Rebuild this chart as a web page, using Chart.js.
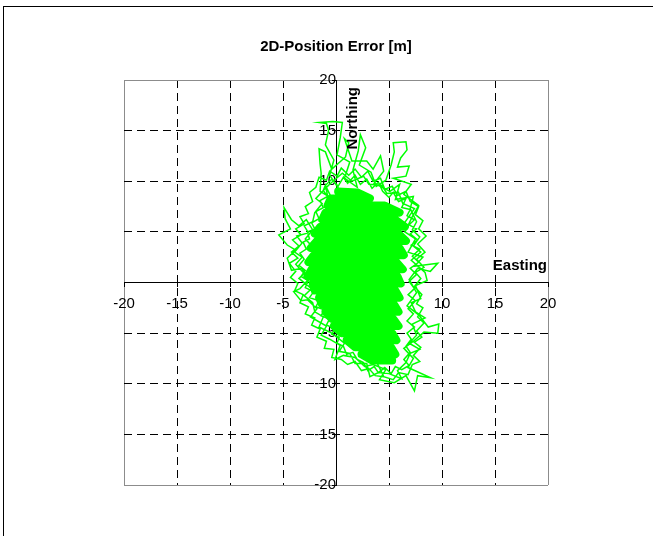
<!DOCTYPE html>
<html>
<head>
<meta charset="utf-8">
<script src="https://cdn.jsdelivr.net/npm/chart.js@4"></script>
<style>
  html, body { margin: 0; padding: 0; background: #fff; overflow: hidden; }
  #wrap { position: relative; width: 653px; height: 536px; }
  #frame { position: absolute; left: 3px; top: 6px; width: 700px; height: 600px;
           border: 1.5px solid #000; pointer-events: none; }
  canvas { position: absolute; left: 0; top: 0; }
</style>
</head>
<body>
<div id="wrap">
  <canvas id="chart" width="653" height="536"></canvas>
  <div id="frame"></div>
</div>
<script>
// axis ticks
var tickValues = [-20, -15, -10, -5, 0, 5, 10, 15, 20];

// dense part of the track (drawn thick), easting / northing in metres
var coreEast  = [0.2, 2.0, 3.2, -0.5, -0.8, 4.6, 6.0, -1.0, -1.3, 5.6, 6.5, -1.5, -2.0, 5.9, 6.6, -1.8, -2.4, 6.0, 6.4, -2.1,
                 -2.6, 5.7, 6.3, -2.3, -2.7, 5.8, 6.1, -2.2, -2.0, 5.6, 6.0, -1.6, -1.3, 5.5, 5.9, -1.0, -0.4, 5.4, 5.9, -0.2,
                 0.5, 5.3, 5.7, 1.0, 1.8, 5.2, 5.6, 2.4, 3.4, 5.3];
var coreNorth = [9.0, 8.9, 8.3, 8.3, 7.6, 7.6, 6.9, 6.9, 6.2, 6.2, 5.5, 5.5, 4.8, 4.8, 4.1, 4.1, 3.4, 3.4, 2.7, 2.7,
                 2.0, 2.0, 1.3, 1.3, 0.6, 0.6, -0.1, -0.1, -0.8, -0.8, -1.5, -1.5, -2.2, -2.2, -2.9, -2.9, -3.6, -3.6, -4.3, -4.3,
                 -5.0, -5.0, -5.7, -5.7, -6.4, -6.4, -7.1, -7.1, -7.7, -7.7];

// full wandering track (thin line)
var trackEast  = [1.0, 0.5, -0.3, 0.7, 0.1, 1.1, 0.3, -0.6, -0.2, -1.0, -0.7, -0.9, -1.6, -0.3, 0.6, 0.4, 0.1, 1.3, 0.8, 2.0,
                  1.6, 2.1, 2.3, 2.8, 2.2, 3.3, 3.8, 4.7, 5.2, 5.5, 5.4, 6.6, 6.7, 6.1, 5.8, 6.9, 6.6, 5.4, 7.1, 6.4,
                  7.8, 7.2, 6.5, 7.5, 6.8, 8.2, 7.4, 9.6, 8.9, 7.7, 6.9, 7.6, 6.7, 7.8, 8.7, 9.7, 9.6, 8.3, 7.3, 6.4,
                  7.3, 6.8, 8.9, 7.7, 7.4, 6.6, 5.5, 4.1, 4.7, 3.5, 2.7, 1.8, 0.7, -0.1, 0.4, -0.6, -1.4, -0.9, -2.4, -1.8,
                  -2.7, -3.3, -4.0, -3.4, -2.6, -3.2, -4.2, -4.6, -3.8, -4.6, -5.4, -4.3, -4.8, -4.9, -4.2, -3.5, -2.8, -2.2, -2.9, -2.1,
                  -1.5, -1.2, -0.4, -1.5, -1.4, -1.5, -1.6, -1.0, -0.4, 0.9, 1.2, 0.8, 1.5, 2.9, 3.5, 4.2, 4.5, 3.6, 5.1, 6.0,
                  5.6, 7.3, 7.0, 7.6, 7.2, 7.9, 7.3, 8.0, 7.1, 8.4, 8.6, 7.5, 8.0, 7.1, 7.5, 8.4, 7.2, 7.6, 6.9, 7.9,
                  7.0, 6.6, 5.8, 6.2, 5.0, 4.0, 3.2, 2.9, 1.8, 1.3, 0.3, 0.8, -0.4, -1.6, -1.2, -2.0, -2.2, -3.0, -2.3, -3.5,
                  -3.0, -3.8, -3.2, -3.9, -3.2, -3.7, -2.6, -3.0, -2.2, -2.0, -1.3, -1.9, -1.0, -0.5, 0.6, 1.5, 2.6, 3.1, 4.3, 4.8,
                  5.9, 6.3, 7.4, 5.2, 3.0,
                  -1.0, -0.4, 0.2, 0.7, 1.1, 1.8, 2.3, 2.9, 3.4, 4.0, 4.4, 5.0, 5.4, 5.9, 6.6, 6.2, 7.0, 6.7, 7.4, 6.9,
                  7.6, 7.0, 7.7, 7.1, 7.9, 7.2, 7.8, 7.0, 7.6, 6.9, 7.4, 6.8, 7.5, 6.8, 7.3, 6.7, 7.4, 6.7, 7.1, 6.6,
                  7.0, 6.4, 6.9, 6.2, 5.6, 5.2, 4.6, 4.0, 3.6, 3.0, 2.6, 2.0, 1.6, 1.0, 0.7, 0.1, 0.3, -0.4, -0.1, -0.9,
                  -0.6, -1.4, -1.1, -1.9, -1.6, -2.5, -2.1, -2.9, -2.6, -3.3, -2.9, -3.5, -3.0, -3.4, -2.8, -3.1, -2.5, -2.7, -2.0, -2.3,
                  -1.6, -1.9, -1.2, -1.5, -0.8, -1.2, -1.0,
                  1.4, 3.0, 4.5, 5.4, 5.9, 6.8, 7.2, 7.9, 7.3, 8.0, 7.4, 8.1, 7.6, 8.3, 7.7, 8.2, 7.6, 8.1, 7.4, 8.0,
                  7.5, 8.3, 7.6, 8.4, 7.7, 8.5, 7.8, 8.2, 7.5, 7.8, 7.0, 6.6, 5.8, 5.3, 4.6, 4.2, 3.5, 3.0, 2.4, 1.8,
                  1.2, 0.5, 0.1, -0.6, -0.9, -1.6, -1.9, -2.5, -2.2, -2.9, -2.6, -3.4, -3.0, -3.8, -3.3, -4.1, -3.5, -4.2, -3.6, -4.4,
                  -3.8, -4.3, -3.6, -3.9, -3.1, -3.4, -2.6, -2.9, -2.0, -2.3, -1.5, -1.8, -0.9, -1.1, -0.2, -0.4, 0.5, 1.1, 1.8, 2.4,
                  3.1, 3.7, 4.5];
var trackNorth = [0.5, 1.8, 3.1, 4.4, 6.0, 7.6, 9.2, 10.6, 12.1, 13.6, 15.0, 15.7, 15.8, 15.9, 15.8, 14.3, 12.6, 11.9, 10.3, 9.4,
                  11.1, 13.0, 14.6, 13.3, 11.6, 10.9, 9.5, 10.1, 11.6, 12.9, 13.8, 13.9, 13.1, 12.3, 11.4, 11.5, 10.5, 10.3, 9.7, 8.7,
                  7.6, 6.5, 5.0, 4.3, 3.0, 2.5, 1.6, 1.9, 1.1, 1.4, 0.3, -1.0, -2.3, -3.2, -4.4, -4.1, -5.0, -4.9, -5.8, -6.5,
                  -7.5, -8.4, -9.4, -9.2, -10.7, -9.2, -9.9, -9.6, -8.6, -8.1, -8.3, -7.4, -7.2, -7.6, -6.2, -5.6, -5.2, -4.3, -3.4, -2.6,
                  -1.7, -1.8, -0.9, -0.6, 0.3, 1.4, 1.2, 2.4, 3.2, 3.7, 4.7, 5.3, 6.3, 7.4, 6.2, 5.6, 6.2, 5.2, 4.3, 3.4,
                  4.7, 6.8, 8.3, 9.0, 10.8, 11.7, 13.2, 12.9, 11.2, 12.4, 13.8, 14.2, 12.0, 12.0, 11.2, 12.5, 11.0, 9.8, 9.0, 9.7,
                  8.2, 8.5, 7.3, 6.0, 5.2, 4.5, 3.6, 3.0, 2.2, 1.0, 0.2, -0.3, -1.6, -2.0, -2.9, -3.5, -4.1, -5.2, -6.0, -6.6,
                  -7.0, -7.9, -8.7, -9.5, -9.0, -8.9, -9.3, -8.0, -8.0, -7.0, -6.8, -6.0, -5.0, -4.4, -3.4, -2.9, -2.0, -1.3, -0.6, 0.4,
                  0.9, 1.8, 2.5, 3.0, 3.9, 4.6, 4.9, 5.6, 6.0, 6.9, 7.8, 8.3, 9.3, 9.8, 10.8, 10.0, 10.5, 9.7, 9.6, 8.8,
                  8.9, 7.8, 7.3, 4.0, 1.0,
                  9.6, 10.2, 9.5, 10.4, 9.8, 10.6, 9.7, 10.2, 9.3, 9.9, 9.0, 8.4, 8.9, 8.0, 8.3, 7.4, 7.2, 6.6, 6.2, 5.7,
                  5.3, 4.8, 4.2, 3.7, 3.3, 2.6, 2.0, 1.4, 0.8, 0.1, -0.6, -1.2, -1.8, -2.6, -3.1, -3.8, -4.4, -5.0, -5.6, -6.3,
                  -6.9, -7.6, -8.2, -8.6, -8.3, -9.0, -8.4, -8.9, -8.3, -8.7, -7.9, -7.6, -6.9, -7.1, -6.3, -6.0, -5.4, -5.1, -4.6, -4.2,
                  -3.6, -3.3, -2.7, -2.4, -1.8, -1.5, -0.9, -0.5, 0.2, 0.6, 1.2, 1.7, 2.3, 2.9, 3.3, 4.0, 4.3, 5.0, 5.3, 5.9,
                  6.3, 7.0, 7.4, 8.1, 8.5, 9.1, 9.6,
                  -2.5, -6.0, -9.3, -9.6, -8.9, -9.1, -8.1, -7.8, -7.2, -6.4, -5.9, -5.4, -4.8, -4.0, -3.4, -2.5, -2.1, -1.2, -0.4, 0.4,
                  1.0, 1.5, 2.3, 3.0, 3.8, 4.6, 5.3, 6.1, 6.7, 7.5, 8.0, 9.0, 8.6, 9.5, 9.2, 10.3, 10.0, 11.0, 10.4, 11.2,
                  10.6, 11.3, 10.5, 11.0, 10.1, 10.4, 9.4, 8.9, 8.0, 7.5, 6.8, 6.5, 5.8, 5.3, 4.7, 4.2, 3.6, 3.0, 2.4, 1.9,
                  1.1, 0.5, -0.1, -0.8, -1.2, -2.0, -2.4, -3.1, -3.5, -4.2, -4.6, -5.4, -5.8, -6.5, -6.6, -7.4, -7.6, -8.1, -7.8, -8.7,
                  -8.5, -9.2, -9.3];

function toPoints(xs, ys) {
  return xs.map(function(x, i) { return {x: x, y: ys[i]}; });
}

var gridColor = function(ctx) {
  return ctx.tick && Math.abs(ctx.tick.value) === 20 ? '#8c8c8c' : '#000';
};
var gridDash = function(ctx) {
  if (!ctx.tick) return [];
  var v = Math.abs(ctx.tick.value);
  return (v === 0 || v === 20) ? [] : [8, 5];
};

// axis names placed beside the crossing axes, like the spreadsheet original
var axisNames = {
  id: 'axisNames',
  afterDraw: function(chart) {
    var c = chart.ctx;
    var xs = chart.scales.x, ys = chart.scales.y;
    c.save();
    c.fillStyle = '#000';
    c.font = 'bold 15px "Liberation Sans", Arial, sans-serif';
    c.textAlign = 'right';
    c.textBaseline = 'middle';
    c.fillText('Easting', xs.getPixelForValue(20) - 1, ys.getPixelForValue(1.6));
    c.translate(xs.getPixelForValue(1.6), ys.getPixelForValue(20) + 7);
    c.rotate(-Math.PI / 2);
    c.fillText('Northing', 0, 0);
    c.restore();
  }
};

var tickFont = {family: '"Liberation Sans", Arial, sans-serif', size: 15};

new Chart(document.getElementById('chart'), {
  type: 'scatter',
  data: {
    datasets: [{
      data: toPoints(coreEast, coreNorth),
      showLine: true,
      borderColor: '#00ff00',
      borderWidth: 8,
      borderJoinStyle: 'round',
      borderCapStyle: 'round',
      pointRadius: 0,
      tension: 0
    }, {
      data: toPoints(trackEast, trackNorth),
      showLine: true,
      borderColor: '#00ff00',
      borderWidth: 1.5,
      pointRadius: 0,
      tension: 0
    }]
  },
  options: {
    responsive: false,
    animation: false,
    events: [],
    layout: {padding: {left: 124, right: 105, top: 0, bottom: 51}},
    plugins: {
      legend: {display: false},
      tooltip: {enabled: false},
      title: {
        display: true,
        text: '2D-Position Error [m]',
        color: '#000',
        font: {family: '"Liberation Sans", Arial, sans-serif', size: 15, weight: 'bold'},
        padding: {top: 38, bottom: 24}
      }
    },
    scales: {
      x: {
        type: 'linear',
        position: {y: 0},
        min: -20, max: 20,
        afterBuildTicks: function(s) { s.ticks = tickValues.map(function(v) { return {value: v}; }); },
        ticks: {color: '#000', font: tickFont, padding: 8, maxRotation: 0},
        grid: {color: gridColor, lineWidth: 1, tickLength: 4, tickColor: '#000'},
        border: {display: true, color: '#000', width: 1, dash: gridDash}
      },
      y: {
        type: 'linear',
        position: {x: 0},
        min: -20, max: 20,
        afterBuildTicks: function(s) { s.ticks = tickValues.map(function(v) { return {value: v}; }); },
        ticks: {color: '#000', font: tickFont, padding: 3},
        grid: {color: gridColor, lineWidth: 1, tickLength: 4, tickColor: '#000'},
        border: {display: true, color: '#000', width: 1, dash: gridDash}
      }
    }
  },
  plugins: [axisNames]
});
</script>
</body>
</html>
